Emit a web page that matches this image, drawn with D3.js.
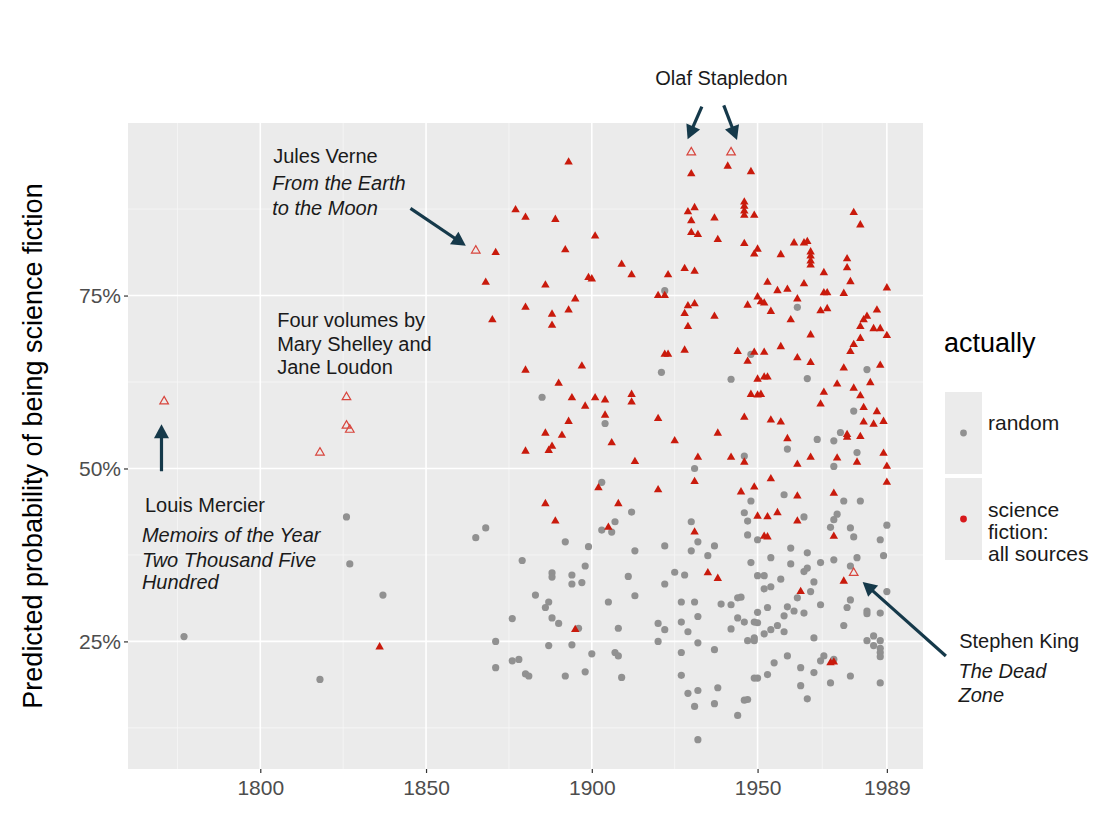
<!DOCTYPE html>
<html>
<head>
<meta charset="utf-8">
<script src="https://cdn.jsdelivr.net/npm/d3@7"></script>
<style>
body { margin: 0; background: #fff; }
text { font-family: "Liberation Sans", Arial, sans-serif; }
</style>
</head>
<body>
<div id="chart"></div>
<script>
// axis breaks
var yearBreaks = [1800, 1850, 1900, 1950, 1989];
var probBreaks = [25, 50, 75];

// [year, predicted probability in %]
var random = [
  [1777, 25.7], [1818, 19.5], [1826, 43.0], [1827, 36.2], [1837, 31.7], [1865, 40.0], [1868, 41.4],
  [1879, 36.7], [1888, 34.9], [1888, 34.3], [1883, 31.7], [1887, 30.7], [1886, 29.9], [1888, 28.4],
  [1876, 28.3], [1871, 25.0], [1887, 24.4], [1871, 21.2], [1876, 22.2], [1878, 22.4], [1880, 20.3],
  [1881, 20.0], [1903, 48.0], [1912, 43.7], [1907, 42.3], [1903, 41.1], [1906, 40.8], [1892, 39.4],
  [1899, 38.7], [1913, 38.1], [1898, 35.9], [1894, 34.6], [1894, 33.3], [1897, 33.5], [1911, 34.4],
  [1913, 31.6], [1905, 30.7], [1890, 27.6], [1896, 26.9], [1908, 26.9], [1920, 27.6], [1894, 24.5],
  [1900, 23.2], [1920, 25.0], [1907, 23.4], [1908, 22.9], [1892, 20.0], [1898, 20.6], [1909, 19.8],
  [1885, 60.3], [1904, 56.5], [1921, 63.9], [1922, 75.7], [1948, 66.5], [1942, 62.9], [1965, 63.0],
  [1983, 64.3], [1979, 58.3], [1975, 55.2], [1968, 54.2], [1973, 54.0], [1959, 52.8], [1980, 52.3],
  [1946, 51.8], [1962, 73.3], [1973, 50.3], [1958, 46.2], [1976, 45.3], [1981, 45.3], [1931, 50.0],
  [1948, 45.3], [1946, 43.6], [1947, 42.4], [1947, 40.4], [1950, 39.7], [1974, 43.4], [1973, 42.6],
  [1972, 41.5], [1964, 43.0], [1978, 41.4], [1979, 40.1], [1989, 41.8], [1987, 39.7], [1988, 37.4],
  [1980, 37.1], [1978, 35.9], [1973, 36.8], [1969, 36.4], [1965, 37.8], [1965, 35.6], [1964, 35.1],
  [1967, 33.6], [1966, 32.2], [1960, 38.5], [1960, 36.2], [1957, 34.0], [1954, 37.1], [1948, 36.4],
  [1950, 34.5], [1952, 34.5], [1952, 32.6], [1954, 32.9], [1962, 31.3], [1959, 30.0], [1961, 29.4],
  [1964, 29.1], [1969, 30.3], [1953, 29.9], [1950, 29.2], [1949, 27.8], [1950, 27.7], [1958, 28.7],
  [1958, 26.4], [1954, 26.7], [1956, 27.3], [1952, 26.1], [1949, 25.5], [1949, 25.1], [1947, 25.1],
  [1945, 31.4], [1944, 31.3], [1942, 30.3], [1939, 30.4], [1944, 28.4], [1946, 27.8], [1942, 26.8],
  [1931, 30.7], [1928, 34.6], [1925, 35.0], [1922, 33.3], [1927, 30.7], [1927, 27.8], [1929, 26.4],
  [1932, 28.6], [1932, 24.8], [1927, 23.4], [1937, 23.8], [1922, 26.7], [1922, 38.8], [1929, 17.5],
  [1932, 17.9], [1927, 20.1], [1931, 15.6], [1937, 16.0], [1938, 18.3], [1932, 10.8], [1944, 14.3],
  [1946, 16.5], [1947, 16.6], [1949, 19.7], [1950, 19.7], [1953, 20.2], [1955, 21.9], [1959, 22.9],
  [1963, 21.2], [1963, 18.6], [1965, 16.7], [1967, 20.5], [1969, 22.2], [1970, 22.9], [1973, 22.4],
  [1972, 19.0], [1978, 20.0], [1967, 25.5], [1983, 25.1], [1985, 25.8], [1985, 24.4], [1987, 25.1],
  [1987, 24.0], [1987, 23.4], [1987, 22.8], [1987, 19.0], [1976, 27.3], [1977, 29.9], [1978, 31.0],
  [1983, 29.4], [1983, 29.0], [1987, 29.1], [1989, 32.2], [1930, 42.3], [1932, 39.4], [1930, 38.1],
  [1935, 37.4], [1937, 38.8]
];

var sciFi = [
  [1836, 24.2], [1893, 94.3], [1877, 87.4], [1880, 86.3], [1889, 86.0], [1901, 83.6], [1871, 81.2],
  [1892, 81.6], [1909, 79.5], [1912, 78.0], [1899, 77.6], [1900, 77.4], [1868, 76.9], [1886, 76.5],
  [1920, 75.0], [1880, 73.3], [1895, 74.5], [1893, 72.9], [1888, 72.3], [1888, 70.7], [1870, 71.5],
  [1880, 64.2], [1897, 64.8], [1890, 62.3], [1894, 60.2], [1898, 59.0], [1901, 60.2], [1904, 59.9],
  [1912, 60.7], [1912, 59.6], [1904, 57.7], [1893, 56.8], [1886, 55.1], [1891, 54.8], [1906, 53.7],
  [1888, 53.2], [1887, 52.6], [1880, 52.5], [1920, 57.2], [1913, 51.0], [1902, 47.2], [1920, 46.9],
  [1886, 44.9], [1908, 44.9], [1889, 42.4], [1905, 41.5], [1895, 26.7],
  [1930, 92.6], [1941, 93.7], [1948, 92.9], [1946, 88.5], [1946, 87.9], [1946, 87.2], [1946, 86.6],
  [1949, 86.6], [1929, 87.1], [1931, 87.7], [1930, 85.8], [1930, 84.1], [1932, 83.8], [1937, 86.2],
  [1938, 83.1], [1946, 82.5], [1950, 81.7], [1949, 81.0], [1957, 80.9], [1961, 82.6], [1964, 82.6],
  [1965, 82.8], [1966, 81.3], [1966, 80.7], [1966, 80.0], [1966, 79.4], [1979, 87.0], [1981, 85.2],
  [1977, 80.3], [1977, 79.0], [1978, 77.0], [1970, 78.3], [1989, 76.1], [1964, 76.7], [1953, 76.9],
  [1956, 75.7], [1959, 75.9], [1962, 74.5], [1970, 75.4], [1971, 75.4], [1976, 75.3], [1950, 74.8],
  [1951, 74.1], [1952, 73.9], [1947, 73.6], [1954, 72.7], [1969, 72.8], [1971, 73.1], [1960, 71.5],
  [1966, 69.3], [1929, 73.5], [1931, 73.8], [1928, 72.4], [1929, 70.5], [1928, 67.1], [1928, 78.9],
  [1931, 78.5], [1937, 72.0], [1922, 75.0], [1923, 78.0], [1922, 66.5], [1923, 66.5], [1944, 66.9],
  [1949, 66.8], [1952, 66.8], [1947, 65.5], [1957, 67.6], [1962, 66.0], [1966, 65.3], [1950, 62.9],
  [1952, 63.2], [1953, 63.2], [1948, 60.7], [1950, 60.6], [1951, 60.7], [1969, 59.3], [1970, 61.0],
  [1974, 62.2], [1976, 64.5], [1979, 61.6], [1981, 60.5], [1984, 62.4], [1987, 64.9], [1982, 58.8],
  [1986, 58.2], [1982, 56.7], [1985, 56.4], [1988, 56.8], [1977, 54.9], [1977, 54.5], [1981, 54.6],
  [1959, 54.3], [1988, 52.2], [1966, 51.6], [1974, 51.5], [1932, 51.6], [1942, 51.6], [1925, 54.0],
  [1938, 55.1], [1946, 57.4], [1954, 57.0], [1957, 56.7], [1986, 72.9], [1983, 72.0], [1982, 71.5],
  [1981, 70.5], [1985, 70.2], [1987, 70.2], [1989, 69.2], [1981, 68.8], [1979, 67.9], [1978, 66.9],
  [1962, 50.6], [1980, 50.9], [1989, 50.3], [1989, 48.0], [1946, 50.9], [1931, 48.1], [1949, 47.3],
  [1945, 46.6], [1954, 48.5], [1962, 46.0], [1973, 46.4], [1950, 43.1], [1953, 43.0], [1956, 43.6],
  [1962, 42.4], [1973, 40.2], [1952, 40.2], [1953, 40.1], [1931, 40.8], [1935, 34.9], [1938, 34.1],
  [1963, 32.2], [1976, 33.7], [1972, 21.9], [1973, 22.0]
];

// titles singled out in the text (open triangles)
var highlighted = [
  [1771, 59.7], [1818, 52.3], [1826, 60.3], [1826, 56.2], [1827, 55.6],
  [1865, 81.5], [1930, 95.7], [1942, 95.7], [1979, 34.9]
];

var legendTitle = "actually";
var legendLabels = [["random"], ["science", "fiction:", "all sources"]];

// annotation text, anchored in data units [year, %]
var notes = [
  {x: 1939.1, y: 105.4, text: "Olaf Stapledon", italic: false, anchor: "middle"},
  {x: 1803.9, y: 94.2, text: "Jules Verne", italic: false},
  {x: 1803.6, y: 90.2, text: "From the Earth", italic: true},
  {x: 1803.6, y: 86.7, text: "to the Moon", italic: true},
  {x: 1805.1, y: 70.4, text: "Four volumes by", italic: false},
  {x: 1805.1, y: 67.0, text: "Mary Shelley and", italic: false},
  {x: 1805.1, y: 63.6, text: "Jane Loudon", italic: false},
  {x: 1765.2, y: 43.7, text: "Louis Mercier", italic: false},
  {x: 1764.3, y: 39.3, text: "Memoirs of the Year", italic: true},
  {x: 1764.3, y: 35.8, text: "Two Thousand Five", italic: true},
  {x: 1764.3, y: 32.6, text: "Hundred", italic: true},
  {x: 2010.8, y: 24.0, text: "Stephen King", italic: false},
  {x: 2010.6, y: 19.7, text: "The Dead", italic: true},
  {x: 2010.6, y: 16.3, text: "Zone", italic: true}
];

// arrows [fromYear, from%, toYear, to%]
var arrows = [
  [1933.2, 102.3, 1928.9, 97.6],
  [1939.8, 102.5, 1943.8, 97.5],
  [1845.3, 87.6, 1862.0, 82.2],
  [1770.2, 49.6, 1770.2, 56.4],
  [2006.8, 22.9, 1981.7, 33.6]
];

var margin = {top: 123, right: 185, bottom: 56, left: 128},
    width = 1108 - margin.left - margin.right,
    height = 825 - margin.top - margin.bottom;

var svg = d3.select("#chart")
    .append("svg")
    .attr("width", width + margin.left + margin.right)
    .attr("height", height + margin.top + margin.bottom);

var g = svg.append("g")
    .attr("transform", "translate(" + margin.left + "," + margin.top + ")");

// ggplot style 5% expansion
function expand(ext) {
  var d = (ext[1] - ext[0]) * 0.05;
  return [ext[0] - d, ext[1] + d];
}
var all = random.concat(sciFi, highlighted);
var x = d3.scaleLinear().domain(expand(d3.extent(all, function(d){return d[0];}))).range([0, width]);
var y = d3.scaleLinear().domain(expand(d3.extent(all, function(d){return d[1];}))).range([height, 0]);

function minorBreaks(b, dom) {
  var out = [];
  out.push(b[0] - (b[1] - b[0]) / 2);
  for (var i = 0; i < b.length - 1; i++) out.push((b[i] + b[i+1]) / 2);
  out.push(b[b.length-1] + (b[b.length-1] - b[b.length-2]) / 2);
  return out.filter(function(v){ return v > dom[0] && v < dom[1]; });
}

// panel
g.append("rect")
  .attr("width", width).attr("height", height)
  .attr("fill", "#EBEBEB");

g.selectAll(".vminor").data(minorBreaks(yearBreaks, x.domain())).enter()
  .append("line")
  .attr("x1", function(d){return x(d);}).attr("x2", function(d){return x(d);})
  .attr("y1", 0).attr("y2", height)
  .attr("stroke", "#F7F7F7").attr("stroke-width", 0.8);
g.selectAll(".hminor").data(minorBreaks(probBreaks, y.domain())).enter()
  .append("line")
  .attr("y1", function(d){return y(d);}).attr("y2", function(d){return y(d);})
  .attr("x1", 0).attr("x2", width)
  .attr("stroke", "#F7F7F7").attr("stroke-width", 0.8);
g.selectAll(".vmajor").data(yearBreaks).enter()
  .append("line")
  .attr("x1", function(d){return x(d);}).attr("x2", function(d){return x(d);})
  .attr("y1", 0).attr("y2", height)
  .attr("stroke", "#fff").attr("stroke-width", 1.6);
g.selectAll(".hmajor").data(probBreaks).enter()
  .append("line")
  .attr("y1", function(d){return y(d);}).attr("y2", function(d){return y(d);})
  .attr("x1", 0).attr("x2", width)
  .attr("stroke", "#fff").attr("stroke-width", 1.6);

// axes
var xAxis = g.append("g")
  .attr("transform", "translate(0," + height + ")")
  .call(d3.axisBottom(x).tickValues(yearBreaks).tickFormat(d3.format("d")).tickSize(4).tickPadding(7.5));
var yAxis = g.append("g")
  .call(d3.axisLeft(y).tickValues(probBreaks).tickFormat(function(d){return d + "%";}).tickSize(4).tickPadding(3));
[xAxis, yAxis].forEach(function(a) {
  a.select(".domain").remove();
  a.selectAll("line").attr("stroke", "#333").attr("stroke-width", 1.2);
  a.selectAll("text").attr("fill", "#4D4D4D").style("font-size", "21px")
    .style("font-family", "'Liberation Sans', Arial, sans-serif");
});

svg.append("text")
  .attr("transform", "translate(42," + (margin.top + height / 2) + ") rotate(-90)")
  .attr("text-anchor", "middle")
  .style("font-size", "27px")
  .attr("fill", "#000")
  .text("Predicted probability of being science fiction");

// points
g.selectAll(".rnd").data(random).enter()
  .append("circle")
  .attr("cx", function(d){return x(d[0]);})
  .attr("cy", function(d){return y(d[1]);})
  .attr("r", 3.6)
  .attr("fill", "#919191");

var tri = d3.symbol().type(d3.symbolTriangle).size(31);
g.selectAll(".sf").data(sciFi).enter()
  .append("path")
  .attr("d", tri)
  .attr("transform", function(d){return "translate(" + x(d[0]) + "," + y(d[1]) + ")";})
  .attr("fill", "#C91A0C");

var triOpen = d3.symbol().type(d3.symbolTriangle).size(32);
g.selectAll(".hl").data(highlighted).enter()
  .append("path")
  .attr("d", triOpen)
  .attr("transform", function(d){return "translate(" + x(d[0]) + "," + y(d[1]) + ")";})
  .attr("fill", "none")
  .attr("stroke", "#D8453D")
  .attr("stroke-width", 1.2);

// arrows
var arrowColor = "#15394A";
arrows.forEach(function(a) {
  var x0 = x(a[0]), y0 = y(a[1]), x1 = x(a[2]), y1 = y(a[3]);
  var len = Math.hypot(x1 - x0, y1 - y0), ux = (x1 - x0) / len, uy = (y1 - y0) / len;
  var L = 14, w = 7.5;
  var bx = x1 - L * ux, by = y1 - L * uy;
  g.append("line")
    .attr("x1", x0).attr("y1", y0).attr("x2", bx + 2 * ux).attr("y2", by + 2 * uy)
    .attr("stroke", arrowColor).attr("stroke-width", 3.2);
  g.append("path")
    .attr("d", "M" + x1 + "," + y1 + "L" + (bx - w * uy) + "," + (by + w * ux) +
               "L" + (bx + w * uy) + "," + (by - w * ux) + "Z")
    .attr("fill", arrowColor);
});

// annotation text
g.selectAll(".note").data(notes).enter()
  .append("text")
  .attr("x", function(d){return x(d.x);})
  .attr("y", function(d){return y(d.y);})
  .attr("text-anchor", function(d){return d.anchor || "start";})
  .style("font-style", function(d){return d.italic ? "italic" : "normal";})
  .style("font-size", "20px")
  .attr("fill", "#1A1A1A")
  .text(function(d){return d.text;});

// legend
var lg = svg.append("g").attr("transform", "translate(944,0)");
lg.append("text")
  .attr("x", 0).attr("y", 352)
  .style("font-size", "27px")
  .attr("fill", "#000")
  .text(legendTitle);

var keyColors = ["#919191", "#D7191C"];
legendLabels.forEach(function(lines, i) {
  var top = 392 + i * 86;
  lg.append("rect")
    .attr("x", 1).attr("y", top).attr("width", 37).attr("height", 82)
    .attr("fill", "#EBEBEB");
  lg.append("circle")
    .attr("cx", 19.5).attr("cy", top + 41).attr("r", 3.4)
    .attr("fill", keyColors[i]);
  var first = i === 0 ? 430 : 517;
  lg.selectAll(".lab" + i).data(lines).enter()
    .append("text")
    .attr("x", 44)
    .attr("y", function(d, j){return first + j * 22;})
    .style("font-size", "21px")
    .attr("fill", "#1A1A1A")
    .text(function(d){return d;});
});
</script>
</body>
</html>
